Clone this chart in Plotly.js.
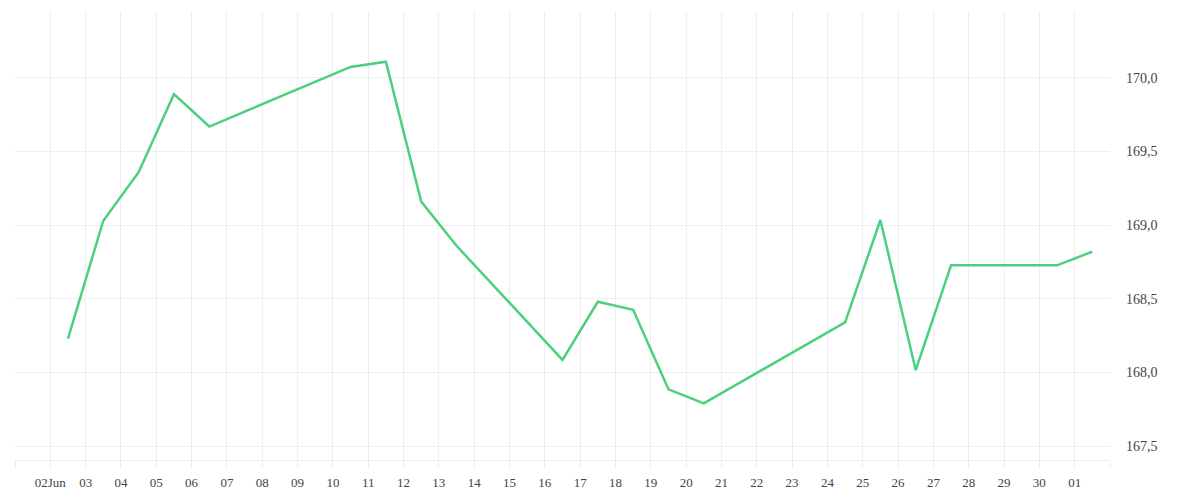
<!DOCTYPE html>
<html>
<head>
<meta charset="utf-8">
<script src="https://cdn.plot.ly/plotly-3.0.1.min.js"></script>
<style>html,body{margin:0;padding:0;background:#fff;}#chart{width:1200px;height:500px;}</style>
</head>
<body>
<div id="chart"></div>
<script>
const dates = ['2024-06-02 12:00','2024-06-03 12:00','2024-06-04 12:00','2024-06-05 12:00','2024-06-06 12:00',
  '2024-06-10 12:00','2024-06-11 12:00','2024-06-12 12:00','2024-06-13 12:00',
  '2024-06-16 12:00','2024-06-17 12:00','2024-06-18 12:00','2024-06-19 12:00','2024-06-20 12:00',
  '2024-06-24 12:00','2024-06-25 12:00','2024-06-26 12:00','2024-06-27 12:00',
  '2024-06-30 12:00','2024-07-01 12:00'];
const values = [168.23,169.03,169.36,169.89,169.67,170.075,170.11,169.16,168.86,168.085,168.48,168.425,167.885,167.79,168.34,169.035,168.015,168.727,168.727,168.82];
const tickDates = ['2024-06-01','2024-06-02','2024-06-03','2024-06-04','2024-06-05','2024-06-06','2024-06-07','2024-06-08','2024-06-09','2024-06-10','2024-06-11','2024-06-12','2024-06-13','2024-06-14','2024-06-15','2024-06-16','2024-06-17','2024-06-18','2024-06-19','2024-06-20','2024-06-21','2024-06-22','2024-06-23','2024-06-24','2024-06-25','2024-06-26','2024-06-27','2024-06-28','2024-06-29','2024-06-30','2024-07-01','2024-07-02'];
const tickLabels = ['','02Jun','03','04','05','06','07','08','09','10','11','12','13','14','15','16','17','18','19','20','21','22','23','24','25','26','27','28','29','30','01',''];
const yTicks = [167.5,168.0,168.5,169.0,169.5,170.0];

const serif = "'Liberation Serif', 'Times New Roman', Times, serif";
const trace = {
  x: dates, y: values, type: 'scatter', mode: 'lines',
  line: {color: '#4cd07d', width: 2.5}, hoverinfo: 'x+y'
};
const layout = {
  width: 1200, height: 500,
  margin: {l: 15, r: 90, t: 12, b: 40},
  paper_bgcolor: '#fff', plot_bgcolor: '#fff',
  separators: ',.',
  showlegend: false,
  font: {family: serif, size: 13, color: '#444'},
  xaxis: {
    type: 'date', range: ['2024-06-01', '2024-07-02'],
    tickmode: 'array', tickvals: tickDates, ticktext: tickLabels,
    showgrid: true, gridcolor: '#eeeeee', gridwidth: 1,
    ticks: 'outside', ticklen: 8, tickcolor: '#eeeeee', tickwidth: 1,
    showline: true, linecolor: '#eeeeee', linewidth: 1,
    zeroline: false, tickangle: 0, ticklabelstandoff: 2,
    tickfont: {family: serif, size: 13, color: '#444'}
  },
  yaxis: {
    side: 'right', range: [167.405, 170.448],
    tickmode: 'array', tickvals: yTicks, tickformat: '.1f',
    showgrid: true, gridcolor: '#eeeeee', gridwidth: 1,
    ticks: '', zeroline: false, showline: false,
    ticklabelstandoff: 15,
    tickfont: {family: serif, size: 14, color: '#444'}
  }
};
Plotly.newPlot('chart', [trace], layout, {displayModeBar: false, staticPlot: true});
</script>
</body>
</html>
